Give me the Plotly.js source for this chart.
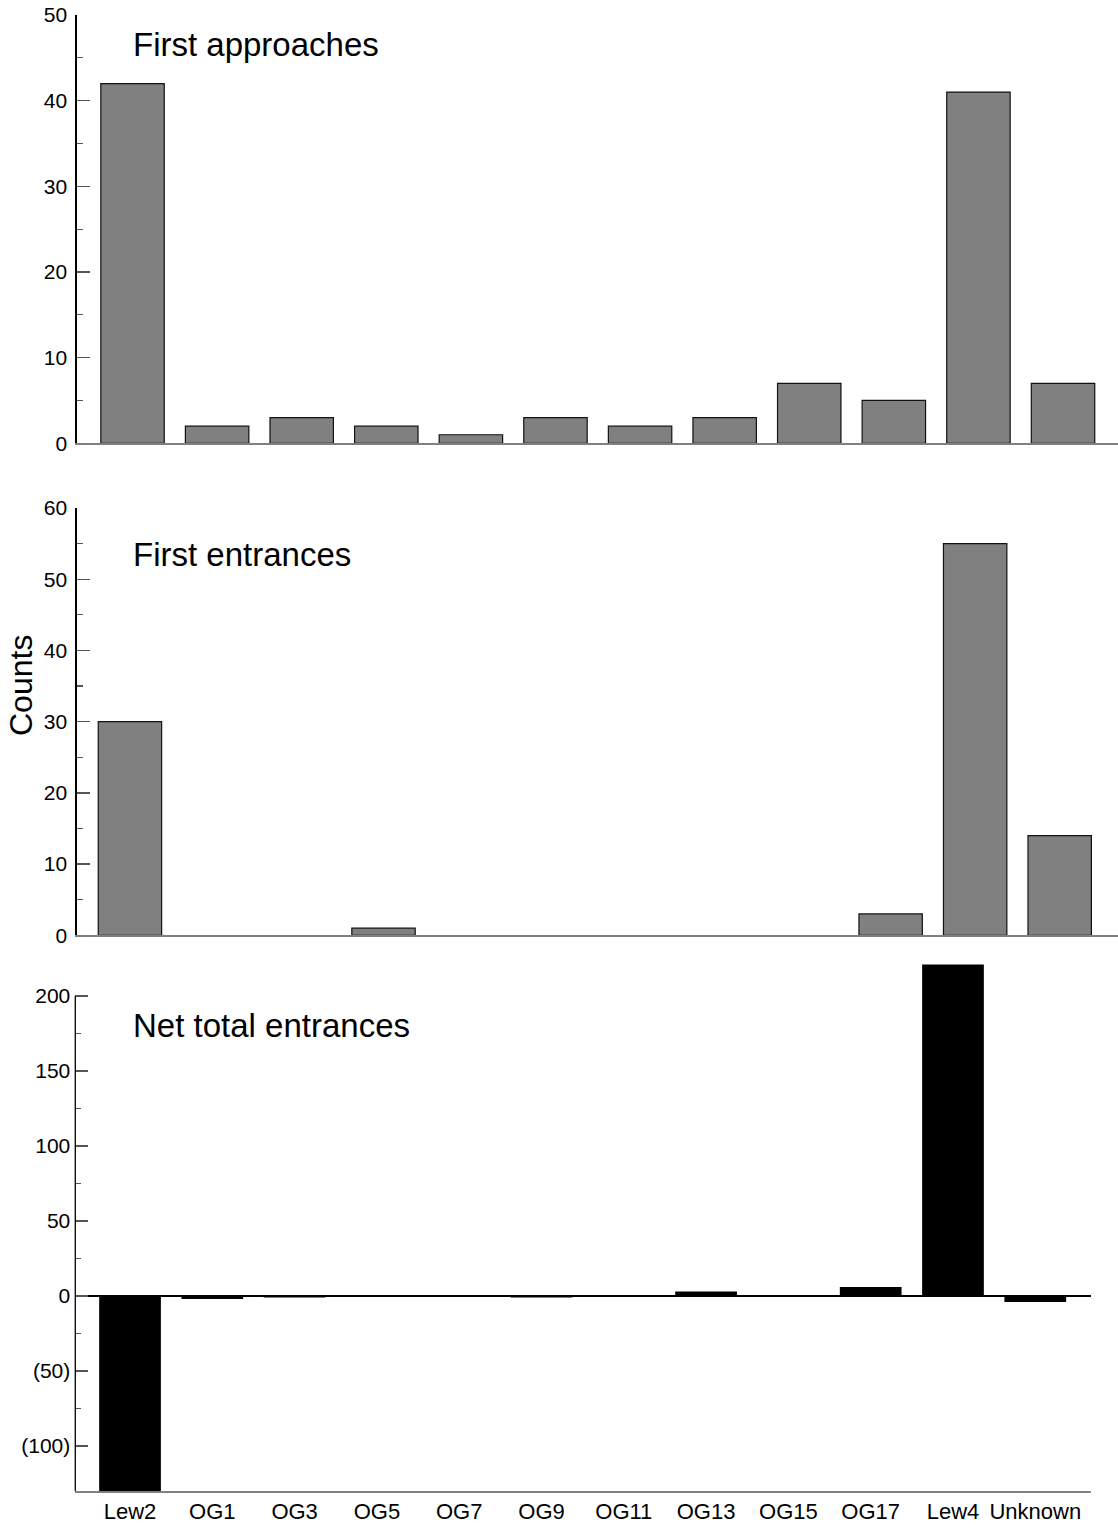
<!DOCTYPE html>
<html>
<head>
<meta charset="utf-8">
<script src="https://cdn.plot.ly/plotly-3.0.1.min.js"></script>
<style>html,body{margin:0;padding:0;background:#fff;}#chart{width:1118px;height:1531px;}</style>
</head>
<body>
<div id="chart"></div>
<script>
const categories = ['Lew2','OG1','OG3','OG5','OG7','OG9','OG11','OG13','OG15','OG17','Lew4','Unknown'];
const firstApproaches = [42, 2, 3, 2, 1, 3, 2, 3, 7, 5, 41, 7];
const firstEntrances = [30, 0, 0, 1, 0, 0, 0, 0, 0, 3, 55, 14];
const netTotalEntrances = [-131, -2, -1, 0, 0, -1, 0, 3, 0, 6, 221, -4];
const panelTitles = ['First approaches', 'First entrances', 'Net total entrances'];
const yTitle = 'Counts';
const topTicks = [0, 10, 20, 30, 40, 50];
const midTicks = [0, 10, 20, 30, 40, 50, 60];
const botTicks = [-100, -50, 0, 50, 100, 150, 200];
const botTickText = ['(100)', '(50)', '0', '50', '100', '150', '200'];

const FONT = 'Liberation Sans, Arial, Helvetica, sans-serif';
const W = 1118, H = 1531;
const px = v => v / W;
const py = v => 1 - v / H;

const greyBar = {color: '#808080', line: {color: '#111', width: 1.2}};
const traces = [
  {type: 'bar', x: categories, y: firstApproaches, xaxis: 'x', yaxis: 'y', width: 0.75,
   marker: greyBar, hoverinfo: 'x+y'},
  {type: 'bar', x: categories, y: firstEntrances.map(v => v === 0 ? null : v), xaxis: 'x2', yaxis: 'y2', width: 0.75,
   marker: greyBar, hoverinfo: 'x+y'},
  {type: 'bar', x: categories, y: netTotalEntrances, xaxis: 'x3', yaxis: 'y3', width: 0.75,
   marker: {color: '#000', line: {width: 0}}, hoverinfo: 'x+y'}
];

function minorVals(maj, step) {
  const out = [];
  for (let i = 0; i < maj.length - 1; i++) out.push(maj[i] + step);
  return out;
}

const yCommon = {
  ticks: 'inside', ticklen: 13, tickwidth: 1.3, tickcolor: '#555',
  showline: true, linecolor: '#000', linewidth: 1.3, showgrid: false, zeroline: false,
  ticklabelstandoff: 4,
  tickfont: {family: FONT, size: 21, color: '#000'}, fixedrange: true
};
const xCommon = {
  type: 'category', showgrid: false, zeroline: false, ticks: '',
  showline: true, linecolor: '#808080', linewidth: 2, fixedrange: true
};

const layout = {
  width: W, height: H,
  margin: {l: 0, r: 0, t: 0, b: 0},
  paper_bgcolor: '#fff', plot_bgcolor: 'rgba(0,0,0,0)',
  showlegend: false,
  bargap: 0.25,
  font: {family: FONT, color: '#000'},
  xaxis: Object.assign({}, xCommon, {domain: [px(76.7), 1], range: [-0.66, 11.65], anchor: 'y', showticklabels: false}),
  yaxis: Object.assign({}, yCommon, {domain: [py(443.3), py(15)], range: [0, 50], anchor: 'x',
    tickmode: 'array', tickvals: topTicks, ticktext: topTicks.map(String),
    minor: {tickmode: 'array', tickvals: minorVals(topTicks, 5), ticks: 'inside', ticklen: 6, tickcolor: '#555', tickwidth: 1.3}}),
  xaxis2: Object.assign({}, xCommon, {domain: [px(76.7), 1], range: [-0.63, 11.69], anchor: 'y2', showticklabels: false}),
  yaxis2: Object.assign({}, yCommon, {domain: [py(935.3), py(508)], range: [0, 60], anchor: 'x2',
    tickmode: 'array', tickvals: midTicks, ticktext: midTicks.map(String),
    minor: {tickmode: 'array', tickvals: minorVals(midTicks, 5), ticks: 'inside', ticklen: 6, tickcolor: '#555', tickwidth: 1.3}}),
  xaxis3: Object.assign({}, xCommon, {domain: [px(75.3), px(1091)], range: [-0.665, 11.677], anchor: 'y3',
    showticklabels: true, tickmode: 'array', tickvals: categories, ticktext: categories,
    tickangle: 0, automargin: false,
    tickfont: {family: FONT, size: 22, color: '#000'}}),
  yaxis3: Object.assign({}, yCommon, {domain: [py(1491), py(963)], range: [-130, 222], anchor: 'x3',
    showline: false, zeroline: true, zerolinecolor: '#000', zerolinewidth: 1.3,
    tickmode: 'array', tickvals: botTicks, ticktext: botTickText,
    minor: {tickmode: 'array', tickvals: [-75, -25, 25, 75, 125, 175], ticks: 'inside', ticklen: 6, tickcolor: '#555', tickwidth: 1.3}}),
  shapes: [
    {type: 'line', xref: 'paper', yref: 'y3', x0: px(75.3), x1: px(75.3), y0: -130, y1: 200,
     line: {color: '#000', width: 1.3}, layer: 'above'}
  ],
  annotations: [
    {text: panelTitles[0], xref: 'paper', yref: 'paper', x: px(131), y: py(44), xanchor: 'left', yanchor: 'middle',
     showarrow: false, font: {family: FONT, size: 33, color: '#000'}},
    {text: panelTitles[1], xref: 'paper', yref: 'paper', x: px(131), y: py(555), xanchor: 'left', yanchor: 'middle',
     showarrow: false, font: {family: FONT, size: 33, color: '#000'}},
    {text: panelTitles[2], xref: 'paper', yref: 'paper', x: px(131), y: py(1025), xanchor: 'left', yanchor: 'middle',
     showarrow: false, font: {family: FONT, size: 33, color: '#000'}},
    {text: yTitle, xref: 'paper', yref: 'paper', x: px(21), y: py(686), xanchor: 'center', yanchor: 'middle',
     textangle: -90, showarrow: false, font: {family: FONT, size: 32, color: '#000'}}
  ]
};

Plotly.newPlot('chart', traces, layout, {displayModeBar: false, staticPlot: true});
</script>
</body>
</html>
